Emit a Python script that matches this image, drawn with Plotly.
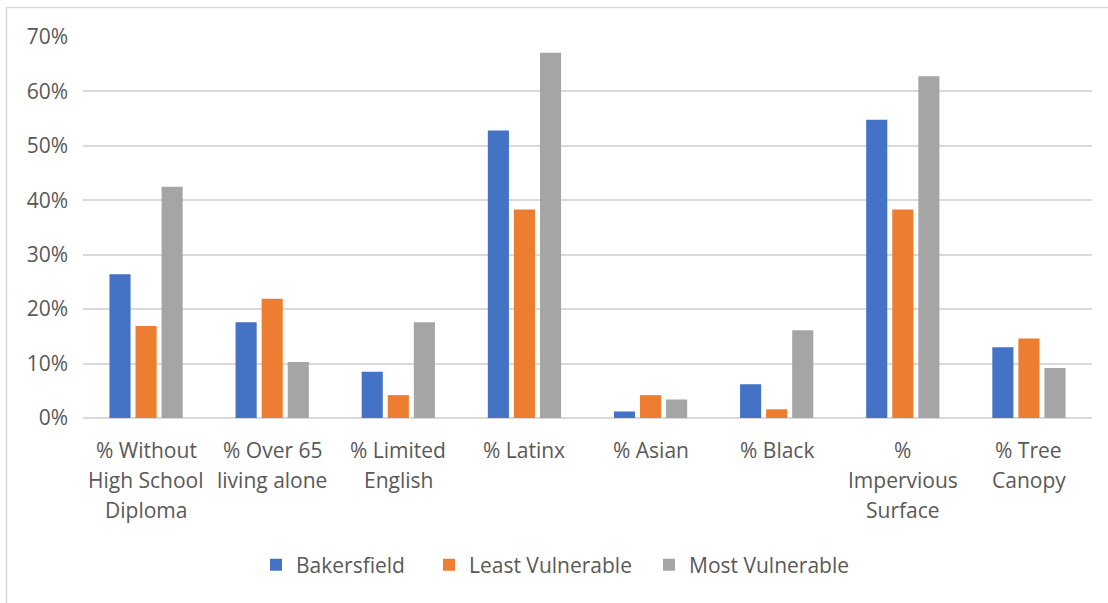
import plotly.graph_objects as go

categories = ["% Without<br>High School<br>Diploma", "% Over 65<br>living alone", "% Limited<br>English",
              "% Latinx", "% Asian", "% Black", "%<br>Impervious<br>Surface", "% Tree<br>Canopy"]
bakersfield = [0.264, 0.176, 0.085, 0.528, 0.012, 0.062, 0.548, 0.130]
least_vulnerable = [0.169, 0.219, 0.042, 0.383, 0.042, 0.016, 0.383, 0.146]
most_vulnerable = [0.425, 0.103, 0.176, 0.671, 0.034, 0.161, 0.628, 0.092]
series_names = ["Bakersfield", "Least Vulnerable", "Most Vulnerable"]
y_ticks = [0, 0.1, 0.2, 0.3, 0.4, 0.5, 0.6, 0.7]

colors = ["#4472C4", "#ED7D31", "#A5A5A5"]
legend_left_px = [270, 443, 663]
W, H = 1108, 603
ML, MR, MT, MB = 83, 16, 37, 185
FONT = "Open Sans"
FS = 21
TXT = "#595959"

pw = W - ML - MR
ph = H - MT - MB
def px_x(p):
    return (p - ML) / pw
def px_y(p):
    return (H - MB - p) / ph

fig = go.Figure()
legend_ids = ["legend", "legend2", "legend3"]
for name, vals, col, lid in zip(series_names, [bakersfield, least_vulnerable, most_vulnerable], colors, legend_ids):
    fig.add_trace(go.Bar(name=name, x=list(range(len(categories))), y=vals, marker_color=col,
                         marker_line_width=0, legend=lid, showlegend=True))

# category labels as multi-line annotations
annotations = []
for i, cat in enumerate(categories):
    for j, line in enumerate(cat.split("<br>")):
        annotations.append(dict(x=i, y=0, xref="x", yref="paper", text=line, showarrow=False,
                                yshift=-(32 + 30 * j), yanchor="middle", xanchor="center",
                                font=dict(family=FONT, size=FS, color=TXT)))

shapes = [
    dict(type="line", xref="paper", yref="paper", x0=px_x(6.5), x1=px_x(W + 5), y0=px_y(7.5), y1=px_y(7.5),
         line=dict(color="#D9D9D9", width=1.5)),
    dict(type="line", xref="paper", yref="paper", x0=px_x(6.5), x1=px_x(6.5), y0=px_y(7.5), y1=px_y(H + 5),
         line=dict(color="#D9D9D9", width=1.5)),
]

legend_layout = {}
for lid, lx in zip(legend_ids, legend_left_px):
    legend_layout[lid] = dict(orientation="h", x=px_x(lx - 14), xanchor="left", y=px_y(565), yanchor="middle",
                              font=dict(family=FONT, size=FS, color=TXT), itemclick=False,
                              bgcolor="rgba(0,0,0,0)")

fig.update_layout(
    width=W, height=H,
    margin=dict(l=ML, r=MR, t=MT, b=MB),
    paper_bgcolor="white", plot_bgcolor="white",
    showlegend=True,
    barmode="group", bargap=0.38, bargroupgap=0.19,
    font=dict(family=FONT, size=FS, color=TXT),
    xaxis=dict(showticklabels=False, showgrid=False, zeroline=False, showline=False,
               range=[-0.5, len(categories) - 0.5]),
    yaxis=dict(range=[0, 0.7], tickvals=y_ticks, tickformat=".0%", showgrid=True,
               gridcolor="#D9D9D9", gridwidth=1.5, zeroline=True, zerolinecolor="#D9D9D9",
               zerolinewidth=1.5, showline=False, ticklabelstandoff=14,
               tickfont=dict(family=FONT, size=FS, color=TXT)),
    annotations=annotations,
    shapes=shapes,
    **legend_layout,
)

fig.write_html("out.html")
